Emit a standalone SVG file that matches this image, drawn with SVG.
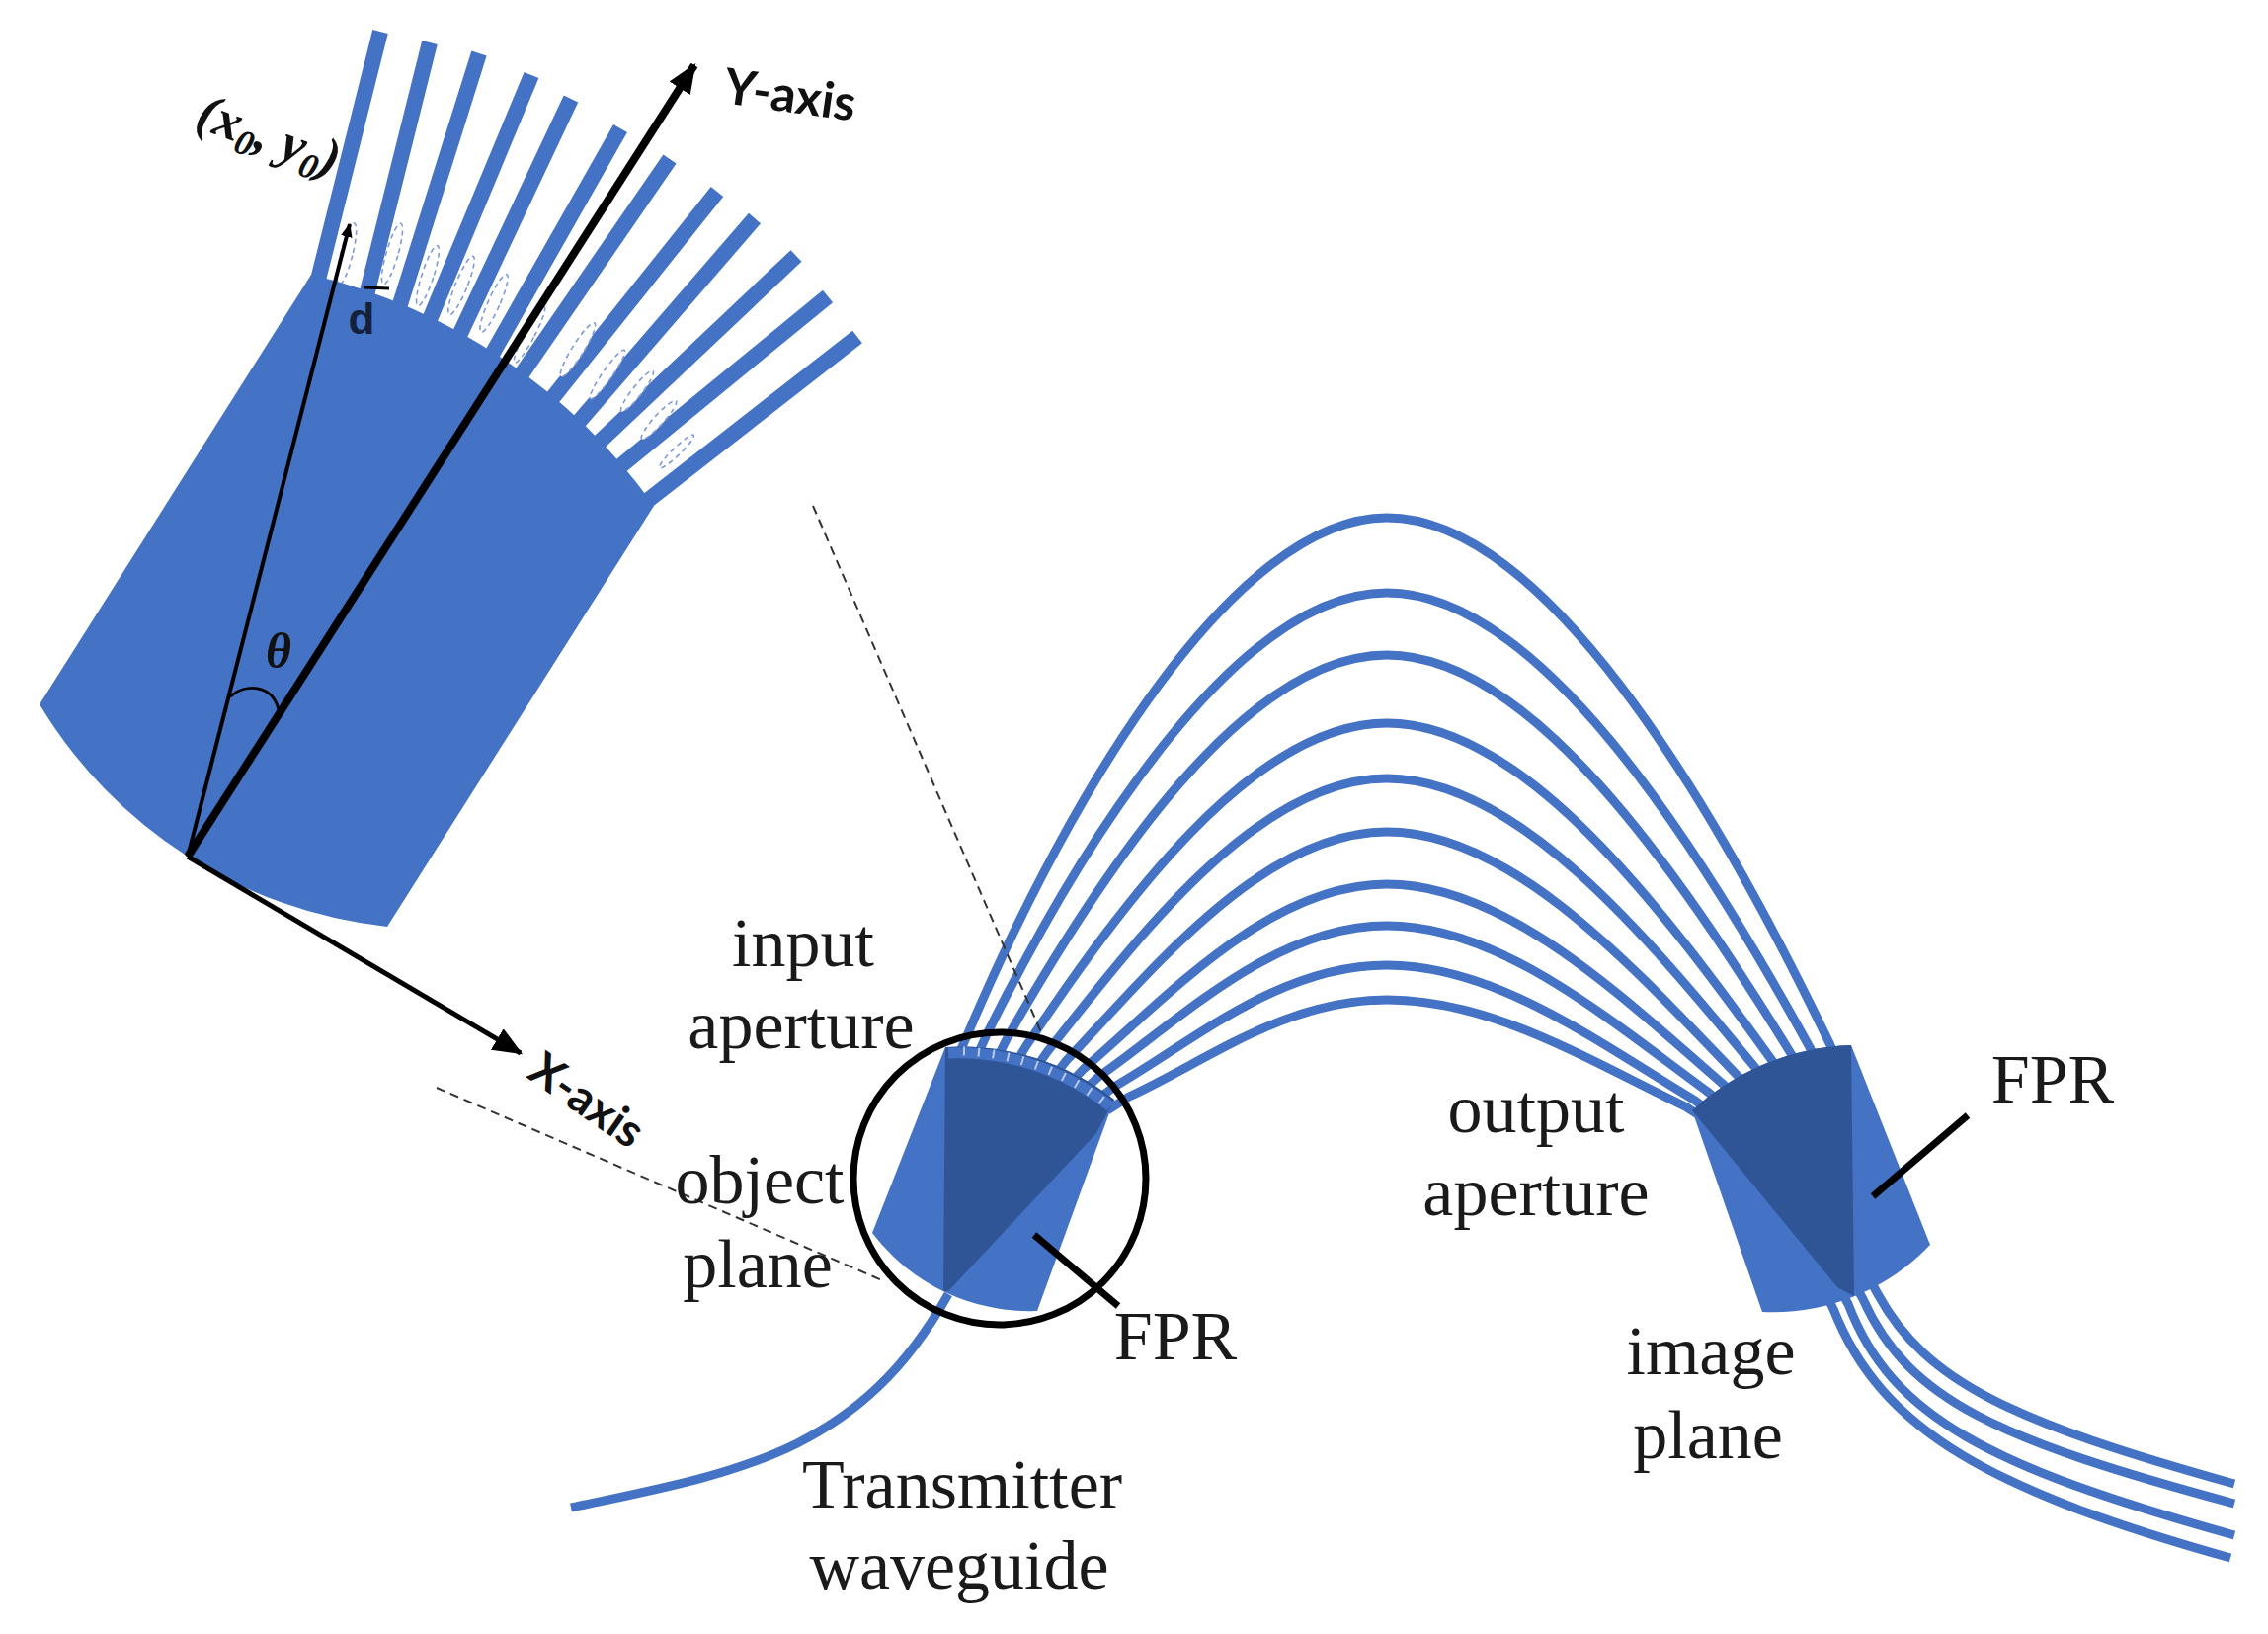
<svg xmlns="http://www.w3.org/2000/svg" width="2296" height="1654" viewBox="0 0 2296 1654">
<style>
.blue{fill:#4472c4}.dark{fill:#2f5597}
.wg{fill:none;stroke:#4472c4;stroke-width:9}
.out{fill:none;stroke:#4472c4;stroke-width:9}
.fin{fill:none;stroke:#4472c4;stroke-width:16}
.gap{fill:#fff;stroke:#7f9ad6;stroke-width:1.6;stroke-dasharray:5 4}
.blk{fill:none;stroke:#000}
.lbl{font-family:"Liberation Serif",serif;font-size:70px;fill:#1a1a1a;text-anchor:middle}
.ax{font-family:Lato,"Open Sans",sans-serif;font-weight:700;fill:#111}
.dash{fill:none;stroke:#333;stroke-width:2;stroke-dasharray:9 6}
</style>
<defs>
<marker id="ah" markerUnits="userSpaceOnUse" markerWidth="30" markerHeight="30" refX="22" refY="10" orient="auto" viewBox="0 0 24 20"><path d="M0 0L24 10L0 20Z" fill="#000"/></marker>
<marker id="ah2" markerUnits="userSpaceOnUse" markerWidth="14" markerHeight="14" refX="22" refY="10" orient="auto" viewBox="0 0 24 20"><path d="M0 0L24 10L0 20Z" fill="#000"/></marker>
</defs>
<g id="fingers">
<path class="fin" d="M317 303L385 32M367 315L435 43M400 324L485 54M431 333L538 76M462 346L578 100M495 364L628 130M523 386L678 161M556 407L726 194M585 428L764 221M605 449L806 259M628 472L838 300M650 511L868 341"/>
<g>
<ellipse class="gap" cx="351" cy="257" rx="6" ry="32" transform="rotate(14 351 257)"/>
<ellipse class="gap" cx="397" cy="257" rx="6" ry="32" transform="rotate(16 397 257)"/>
<ellipse class="gap" cx="433" cy="279" rx="6" ry="32" transform="rotate(18 433 279)"/>
<ellipse class="gap" cx="467" cy="289" rx="6" ry="32" transform="rotate(22 467 289)"/>
<ellipse class="gap" cx="500" cy="307" rx="6" ry="32" transform="rotate(24 500 307)"/>
<ellipse class="gap" cx="536" cy="339" rx="5" ry="32" transform="rotate(28 536 339)"/>
<ellipse class="gap" cx="585" cy="354" rx="6" ry="32" transform="rotate(32 585 354)"/>
<ellipse class="gap" cx="615" cy="379" rx="5" ry="30" transform="rotate(35 615 379)"/>
<ellipse class="gap" cx="645" cy="396" rx="5" ry="26" transform="rotate(38 645 396)"/>
<ellipse class="gap" cx="667" cy="425" rx="5" ry="26" transform="rotate(42 667 425)"/>
<ellipse class="gap" cx="685" cy="457" rx="4" ry="24" transform="rotate(46 685 457)"/>
</g>
</g>
<g id="fpr-zoomed">
<path class="blue" d="M315 278A596 596 0 0 1 662 512L392 938A470 470 0 0 1 40 713Z"/>
</g>
<g id="arrayed-waveguides">
<path class="wg" d="M973 1062L983 1039C1084 802 1250 524 1404 524C1561 524 1730 802 1853 1058L1863 1081"/>
<path class="wg" d="M990 1067L1000 1045C1099 845 1255 600 1404 600C1554 600 1712 842 1833 1062L1844 1084"/>
<path class="wg" d="M1009 1072L1020 1050C1117 880 1260 663 1404 663C1548 663 1696 877 1814 1068L1826 1089"/>
<path class="wg" d="M1027 1078L1040 1057C1134 918 1267 732 1404 732C1541 732 1680 915 1795 1075L1809 1095"/>
<path class="wg" d="M1046 1085L1060 1065C1151 950 1273 788 1404 788C1535 788 1666 946 1778 1082L1793 1101"/>
<path class="wg" d="M1065 1092L1080 1073C1168 980 1279 842 1404 842C1529 842 1651 976 1760 1090L1776 1108"/>
<path class="wg" d="M1080 1100L1097 1082C1182 1009 1285 895 1404 895C1523 895 1639 1006 1745 1098L1762 1115"/>
<path class="wg" d="M1094 1107L1112 1090C1195 1032 1290 937 1404 937C1518 937 1626 1030 1730 1106L1748 1122"/>
<path class="wg" d="M1108 1115L1128 1100C1208 1054 1295 977 1404 977C1513 977 1615 1053 1716 1114L1736 1129"/>
<path class="wg" d="M1121 1124L1143 1110C1220 1075 1300 1012 1404 1012C1510 1012 1606 1072 1706 1120L1728 1134"/>
</g>
<g id="transmitter-waveguide">
<path class="wg" d="M578 1526C750 1490 870 1470 960 1310"/>
</g>
<g id="output-waveguides">
<path class="out" d="M1890 1290L1901 1310C1950 1400 2040 1440 2262 1502"/>
<path class="out" d="M1875 1295L1886 1315C1932 1418 2025 1458 2262 1522"/>
<path class="out" d="M1860 1300L1871 1320C1915 1435 2015 1485 2262 1554"/>
<path class="out" d="M1846 1305L1856 1325C1905 1450 2020 1510 2258 1577"/>
</g>
<g id="fpr-left">
<path class="blue" d="M957 1060A252 252 0 0 1 1128 1113L1050 1327A200 200 0 0 1 883 1248Z"/>
<path class="dark" d="M957 1060A252 252 0 0 1 1128 1113L1110 1147L960 1307L955 1307Z"/>
<path fill="none" stroke="#4472c4" stroke-width="11" d="M960 1066A246 246 0 0 1 1124 1120"/>
<path fill="none" stroke="#b9c9ee" stroke-width="9" stroke-dasharray="2 13" d="M975 1064A246 246 0 0 1 1118 1116"/>
</g>
<g id="fpr-right">
<path class="blue" d="M1713 1124A250 250 0 0 1 1874 1058L1954 1260A220 220 0 0 1 1784 1328Z"/>
<path class="dark" d="M1713 1124A250 250 0 0 1 1874 1058L1877 1312L1860 1303Z"/>
</g>
<g id="connectors">
<circle class="blk" cx="1012" cy="1193" r="148" stroke-width="7"/>
<path class="blk" stroke-width="7" d="M1047 1250L1132 1322"/>
<path class="blk" stroke-width="7" d="M1992 1129L1896 1211"/>
<path class="blk" stroke-width="4" marker-end="url(#ah2)" d="M190 867L354 227"/>
<path class="blk" stroke-width="8" marker-end="url(#ah)" d="M190 867L703 66"/>
<path class="blk" stroke-width="5" marker-end="url(#ah)" d="M190 867L527 1066"/>
<path class="blk" stroke-width="3" d="M233 705C248 692 275 692 282 718"/>
<path class="blk" stroke-width="3" d="M369 291L394 292"/>
<path class="dash" d="M823 512L1054 1045"/>
<path class="dash" d="M442 1101L893 1296"/>
</g>
<g id="labels">
<text class="lbl" x="813" y="978">input</text>
<text class="lbl" x="811" y="1061">aperture</text>
<text class="lbl" x="769" y="1218">object</text>
<text class="lbl" x="767" y="1303">plane</text>
<text class="lbl" x="1190" y="1376">FPR</text>
<text class="lbl" x="1555" y="1146">output</text>
<text class="lbl" x="1555" y="1230">aperture</text>
<text class="lbl" x="2078" y="1116">FPR</text>
<text class="lbl" x="1732" y="1391">image</text>
<text class="lbl" x="1729" y="1476">plane</text>
<text class="lbl" x="974" y="1526">Transmitter</text>
<text class="lbl" x="971" y="1608">waveguide</text>
<text class="ax" font-size="50" transform="translate(731 104) rotate(8)">Y-axis</text>
<text class="ax" font-size="47" transform="translate(532 1090) rotate(35)">X-axis</text>
<text transform="translate(196 128) rotate(20)" font-family="'Liberation Serif',serif" font-style="italic" font-weight="700" font-size="54" fill="#111">(x<tspan font-size="36" dy="10">0</tspan><tspan dy="-10">, y</tspan><tspan font-size="36" dy="10">0</tspan><tspan dy="-10">)</tspan></text>
<text x="366" y="338" text-anchor="middle" font-family="'Liberation Sans',sans-serif" font-weight="700" font-size="44" fill="#14213d">d</text>
<text x="282" y="676" text-anchor="middle" font-family="'Liberation Serif',serif" font-style="italic" font-weight="700" font-size="50" fill="#111">θ</text>
</g>
</svg>
